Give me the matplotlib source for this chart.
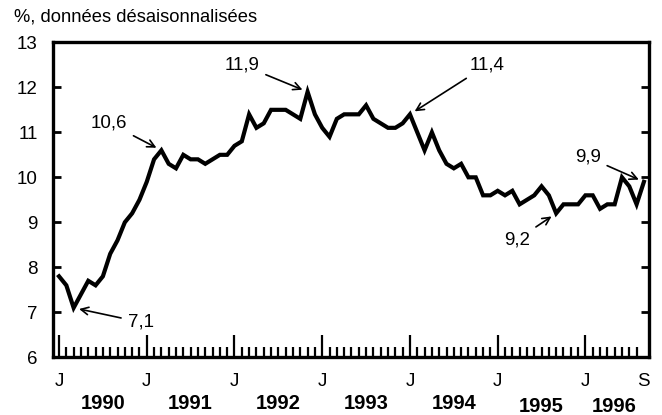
import matplotlib
matplotlib.use("Agg")
import matplotlib.pyplot as plt
import numpy as np

plt.rcParams['font.family'] = ['Liberation Sans', 'DejaVu Sans']

# taux de chômage mensuel, janvier 1990 - septembre 1996
valeurs = [7.8, 7.6, 7.1, 7.4, 7.7, 7.6, 7.8, 8.3, 8.6, 9.0, 9.2, 9.5,
           9.9, 10.4, 10.6, 10.3, 10.2, 10.5, 10.4, 10.4, 10.3, 10.4, 10.5, 10.5,
           10.7, 10.8, 11.4, 11.1, 11.2, 11.5, 11.5, 11.5, 11.4, 11.3, 11.9, 11.4,
           11.1, 10.9, 11.3, 11.4, 11.4, 11.4, 11.6, 11.3, 11.2, 11.1, 11.1, 11.2,
           11.4, 11.0, 10.6, 11.0, 10.6, 10.3, 10.2, 10.3, 10.0, 10.0, 9.6, 9.6,
           9.7, 9.6, 9.7, 9.4, 9.5, 9.6, 9.8, 9.6, 9.2, 9.4, 9.4, 9.4,
           9.6, 9.6, 9.3, 9.4, 9.4, 10.0, 9.8, 9.4, 9.9]
annees = ['1990', '1991', '1992', '1993', '1994', '1995', '1996']
etiquettes_mois = ['J', 'J', 'J', 'J', 'J', 'J', 'J', 'S']
# points annotés (indice du mois)
points_notes = [2, 14, 34, 48, 68, 80]

mois = np.arange(len(valeurs))

fig = plt.figure(figsize=(6.62, 4.15), dpi=100)
ax = fig.add_axes([0.0801, 0.139, 0.9003, 0.759])

ax.plot(mois, valeurs, color='black', lw=3.0, solid_joinstyle='miter')

ax.set_xlim(-0.82, 80.7)
ax.set_ylim(6, 13)

# axes et graduations
for s in ax.spines.values():
    s.set_linewidth(2.4)
ax.set_yticks(range(6, 14))
ax.tick_params(axis='y', which='major', direction='in', length=6, width=2,
               right=True, labelsize=13.5, pad=11)
pos_maj = [i * 12 for i in range(7)] + [80]
ax.set_xticks(pos_maj)
ax.set_xticklabels(etiquettes_mois)
ax.set_xticks(mois, minor=True)
ax.tick_params(axis='x', which='major', direction='in', length=16, width=1.6,
               labelsize=13.5, pad=11)
ax.tick_params(axis='x', which='minor', direction='in', length=7, width=1.6)
ax.xaxis.get_major_ticks()[-1].tick1line.set_visible(False)

# années sous l'axe
for i, a in enumerate(annees):
    debut = i * 12
    fin = min(debut + 12, len(valeurs) - 1)
    dy = -0.155 if i >= 5 else -0.146
    ax.text((debut + fin) / 2, dy, a, transform=ax.get_xaxis_transform(),
            ha='center', va='center', fontsize=14.5, fontweight='bold')

# annotations
pos_texte = [(11.2, 6.78), (6.8, 11.21), (25.0, 12.5), (58.6, 12.5),
             (62.6, 8.61), (72.3, 10.45)]
for m, (tx, ty) in zip(points_notes, pos_texte):
    lab = f"{valeurs[m]:.1f}".replace('.', ',')
    ax.annotate(lab, xy=(m, valeurs[m]), xytext=(tx, ty),
                ha='center', va='center', fontsize=13.5,
                arrowprops=dict(arrowstyle='->', color='black', lw=1.2,
                                shrinkA=3, shrinkB=4))

fig.text(14 / 662, 1 - 17 / 415, '%, données désaisonnalisées',
         ha='left', va='center', fontsize=13.2)

fig.savefig('out.png', dpi=100)
